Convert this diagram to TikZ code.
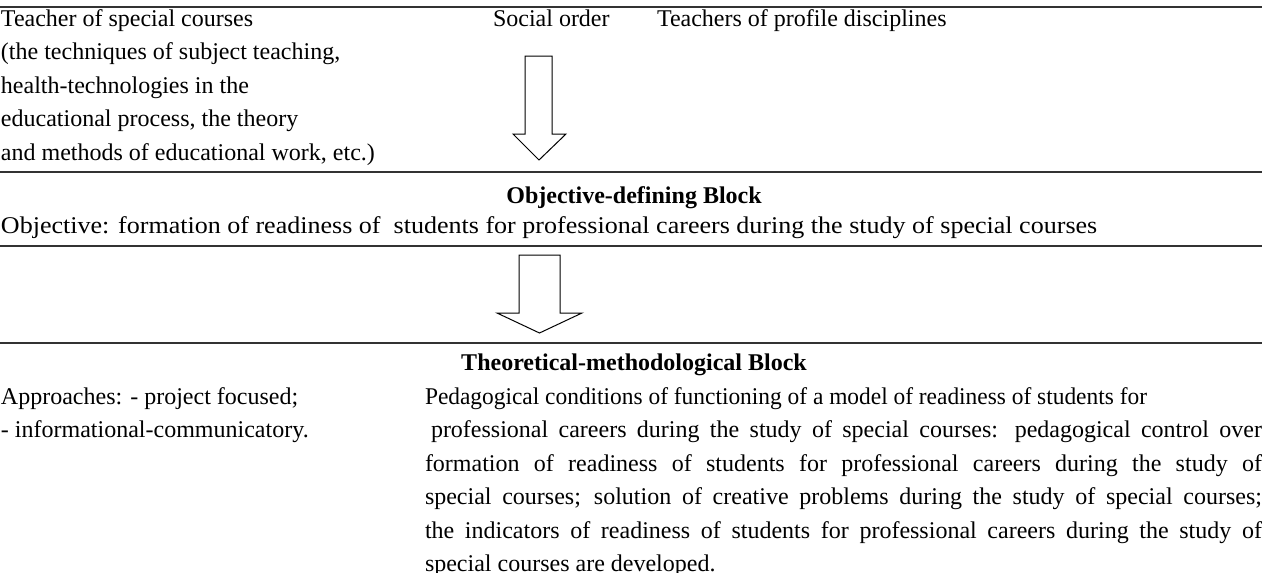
\documentclass[tikz,border=0pt]{standalone}
\usepackage{fontspec}
\usepackage{graphicx}
\setmainfont{Liberation Serif}
\begin{document}
\begin{tikzpicture}[x=0.5pt,y=-0.5pt,
  txt/.style={inner sep=0pt,outer sep=0pt,font=\fontsize{12}{16.75}\selectfont,align=left},
  ttl/.style={inner sep=0pt,outer sep=0pt,font=\fontsize{12}{16.75}\selectfont\bfseries},
  rule/.style={line width=0.8pt,black!80},
  blockarrow/.style={draw=black,line width=0.5pt,fill=white}]
\useasboundingbox (0,0) rectangle (1270,573);
% rules
\draw[rule] (0,7) -- (1262,7);
\draw[rule] (0,172) -- (1262,172);
\draw[rule] (0,246) -- (1262,246);
\draw[rule] (0,343) -- (1262,343);
% top block (anchor on last baseline)
\node[txt,anchor=base west] (teacher) at (1,160) {Teacher of special courses\\
(the techniques of subject teaching,\\
health-technologies in the\\
educational process, the theory\\
and methods of educational work, etc.)};
\node[txt,anchor=base west] (social) at (493,26) {Social order};
\node[txt,anchor=base west] (profile) at (657,26) {Teachers of profile disciplines};
% arrow 1
\draw[blockarrow] (525,56) -- (552,56) -- (552,134) -- (566,134) -- (539,160) -- (513,134) -- (525,134) -- cycle;
% objective block
\node[ttl,anchor=base] (objtitle) at (634,203) {Objective-defining Block};
\node[txt,anchor=base west] (objective) at (1,233) {\scalebox{1.085}[1]{Objective: formation of readiness of \ students for professional careers during the study of special courses}};
% arrow 2
\draw[blockarrow] (519,255) -- (560,255) -- (560,313) -- (582,313) -- (539.5,333) -- (497,313) -- (519,313) -- cycle;
% theoretical block
\node[ttl,anchor=base] (theotitle) at (634,370) {Theoretical-methodological Block};
\node[txt,anchor=base west] (approaches) at (1,437.5) {Approaches: - project focused;\\
- informational-communicatory.};
\node[txt,anchor=base west] (conditions) at (425,571.5) {\scalebox{0.975}[1]{Pedagogical conditions of functioning of a model of readiness of students for}\\
\makebox[418.5pt][s]{\hskip3pt professional careers during the study of special courses: pedagogical control over}\\
\makebox[418.5pt][s]{formation of readiness of students for professional careers during the study of}\\
\makebox[418.5pt][s]{special courses; solution of creative problems during the study of special courses;}\\
\makebox[418.5pt][s]{the indicators of readiness of students for professional careers during the study of}\\
special courses are developed.};
\end{tikzpicture}
\end{document}
